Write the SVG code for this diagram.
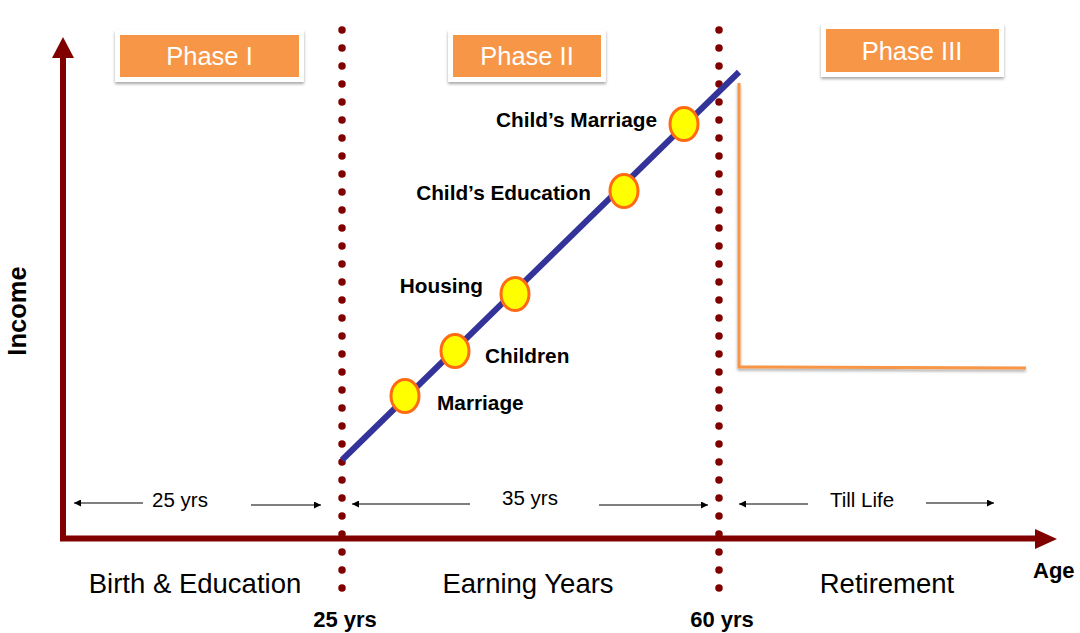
<svg xmlns="http://www.w3.org/2000/svg" width="1080" height="633" viewBox="0 0 1080 633">
  <defs>
    <filter id="sh" x="-10%" y="-20%" width="120%" height="150%">
      <feDropShadow dx="0" dy="2" stdDeviation="1.5" flood-color="#000" flood-opacity="0.35"/>
    </filter>
    <marker id="ah" viewBox="0 0 10 10" refX="10" refY="5" markerWidth="9" markerHeight="7" markerUnits="userSpaceOnUse" orient="auto">
      <path d="M0,0 L10,5 L0,10 Z" fill="#000"/>
    </marker>
    <style>
      .ph{fill:#F79646}
      .pw{fill:#fff;filter:url(#sh)}
      .pt{font-family:"Liberation Sans",Arial,sans-serif;font-size:25.5px;fill:#fff;text-anchor:middle}
      .dots{stroke:#800000;stroke-width:7.5;stroke-linecap:round;stroke-dasharray:0 18;fill:none}
      .ms{fill:#FFFF00;stroke:#FF6A13;stroke-width:3}
      .ml{font-family:"Liberation Sans",Arial,sans-serif;font-size:20.8px;font-weight:bold;fill:#000}
      .era{font-family:"Liberation Sans",Arial,sans-serif;font-size:27.5px;fill:#000;text-anchor:middle}
      .dim{font-family:"Liberation Sans",Arial,sans-serif;font-size:20.5px;fill:#000;text-anchor:middle}
      .dl{stroke:#000;stroke-width:1.2;marker-end:url(#ah)}
      .bold{font-family:"Liberation Sans",Arial,sans-serif;font-weight:bold;fill:#000}
    </style>
  </defs>
  <rect width="1080" height="633" fill="#fff"/>

  <g id="separators">
    <line class="dots" x1="342" y1="30" x2="342" y2="590"/>
    <line class="dots" x1="719" y1="30" x2="719" y2="590"/>
  </g>

  <g id="axes">
    <polyline points="63,58 63,538.5 1036,538.5" fill="none" stroke="#800000" stroke-width="6" stroke-linejoin="miter"/>
    <polygon points="63,37 52,58 74,58" fill="#800000"/>
    <polygon points="1057,539 1035,529 1035,549" fill="#800000"/>
    <text class="bold" font-size="25.5" transform="translate(26,311) rotate(-90)" text-anchor="middle">Income</text>
    <text class="bold" font-size="22" x="1033" y="578">Age</text>
  </g>

  <g id="connectors">
    <line x1="342" y1="460" x2="739" y2="72" stroke="#333399" stroke-width="6"/>
    <polyline points="739,83 739,367 1026,368" fill="none" stroke="#F79646" stroke-width="3" filter="url(#sh)"/>
    <line class="dl" x1="143" y1="503" x2="74" y2="503"/>
    <line class="dl" x1="251" y1="505" x2="321" y2="505"/>
    <line class="dl" x1="470" y1="504" x2="352" y2="504"/>
    <line class="dl" x1="599" y1="505" x2="708" y2="505"/>
    <line class="dl" x1="808" y1="504" x2="739" y2="504"/>
    <line class="dl" x1="926" y1="503" x2="994" y2="503"/>
  </g>

  <g id="phase1">
    <rect class="pw" x="115" y="30" width="189" height="52"/>
    <rect class="ph" x="120" y="35" width="179" height="42"/>
    <text class="pt" x="209.5" y="65">Phase I</text>
  </g>
  <g id="phase2">
    <rect class="pw" x="448" y="30" width="158" height="52"/>
    <rect class="ph" x="453" y="35" width="148" height="42"/>
    <text class="pt" x="527" y="65">Phase II</text>
  </g>
  <g id="phase3">
    <rect class="pw" x="821" y="24" width="183" height="53"/>
    <rect class="ph" x="826" y="29" width="173" height="43"/>
    <text class="pt" x="912" y="60">Phase III</text>
  </g>

  <g id="m-marriage">
    <ellipse class="ms" cx="405" cy="396" rx="14" ry="16.5"/>
    <text class="ml" x="437" y="410">Marriage</text>
  </g>
  <g id="m-children">
    <ellipse class="ms" cx="455" cy="351" rx="14" ry="16.5"/>
    <text class="ml" x="485" y="363">Children</text>
  </g>
  <g id="m-housing">
    <ellipse class="ms" cx="515" cy="294" rx="14" ry="16.5"/>
    <text class="ml" x="483" y="293" text-anchor="end">Housing</text>
  </g>
  <g id="m-child-education">
    <ellipse class="ms" cx="624" cy="191" rx="14" ry="16.5"/>
    <text class="ml" x="591" y="200" text-anchor="end">Child’s Education</text>
  </g>
  <g id="m-child-marriage">
    <ellipse class="ms" cx="684" cy="124" rx="14" ry="16.5"/>
    <text class="ml" x="657" y="127" text-anchor="end">Child’s Marriage</text>
  </g>

  <g id="labels">
    <text class="dim" x="180" y="507">25 yrs</text>
    <text class="dim" x="530" y="505">35 yrs</text>
    <text class="dim" x="862" y="507">Till Life</text>
    <text class="era" x="195" y="593">Birth &amp; Education</text>
    <text class="era" x="528" y="593">Earning Years</text>
    <text class="era" x="887" y="593">Retirement</text>
    <text class="bold" font-size="22" x="345" y="627" text-anchor="middle">25 yrs</text>
    <text class="bold" font-size="22" x="722" y="627" text-anchor="middle">60 yrs</text>
  </g>
</svg>
